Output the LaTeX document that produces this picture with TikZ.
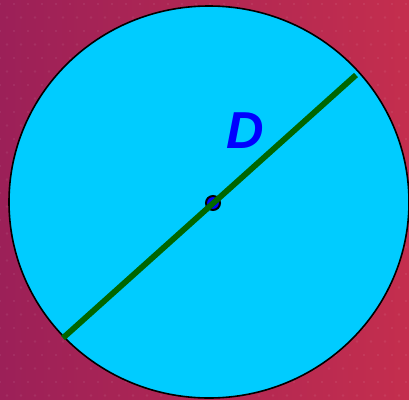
\documentclass[tikz,border=0pt]{standalone}
\usepackage{fontspec}
\setmainfont{Liberation Sans}
\definecolor{bgleft}{RGB}{156,32,88}
\definecolor{bgright}{RGB}{196,46,78}
\definecolor{discfill}{RGB}{0,204,255}
\definecolor{diamgreen}{RGB}{0,102,0}
\definecolor{labelblue}{RGB}{0,0,255}
\tikzset{
  disc/.style={fill=discfill, draw=black, line width=1.6pt},
  diam/.style={draw=diamgreen, line width=5.8pt},
  centredot/.style={circle, fill=labelblue, draw=black, line width=2pt, minimum size=14pt, inner sep=0pt},
  dlabel/.style={text=labelblue, font=\fontsize{52}{52}\selectfont\bfseries\itshape, inner sep=0pt}
}
\begin{document}
\begin{tikzpicture}[x=1pt,y=-1pt]
\useasboundingbox (0,0) rectangle (409,399);
\shade[left color=bgleft, right color=bgright] (0,0) rectangle (409,399);
\foreach \r in {0,...,30}{
  \foreach \c in {0,...,30}{
    \pgfmathsetmacro{\xx}{\c*14 + mod(\r,2)*7}
    \pgfmathsetmacro{\yy}{\r*13.5+4}
    \fill[white, opacity=0.07] (\xx,\yy) circle (1.4);
  }
}
\draw[disc] (209,202) ellipse [x radius=200, y radius=196];
\coordinate (a) at (63,338);
\coordinate (b) at (356,75);
\node[centredot] (o) at (213,203) {};
\draw[diam] (a) -- (b);
\node[dlabel] (d) at (245,131) {D};
\end{tikzpicture}
\end{document}
